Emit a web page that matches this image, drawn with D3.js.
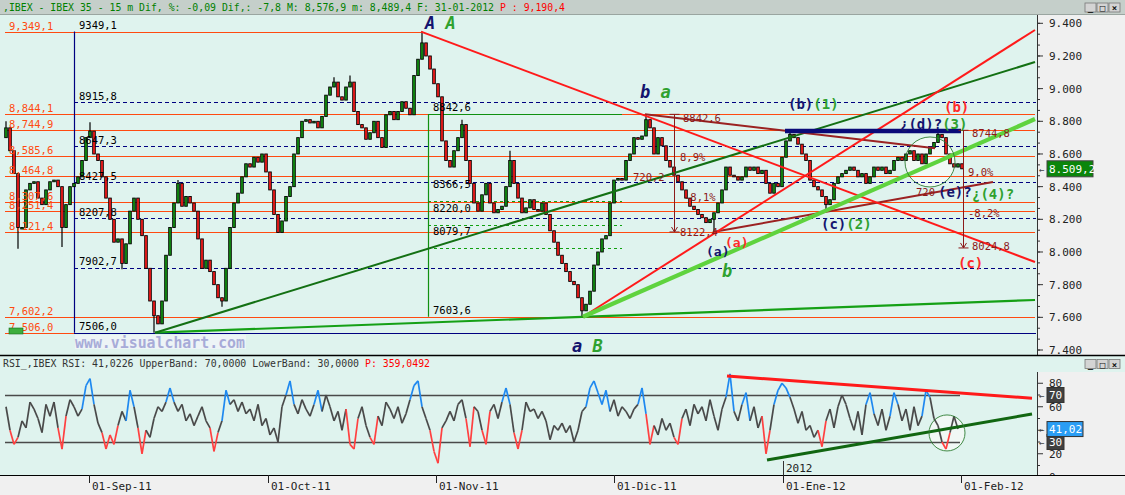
<!DOCTYPE html>
<html><head><meta charset="utf-8">
<script src="https://cdn.jsdelivr.net/npm/d3@7"></script>
<style>
html,body{margin:0;padding:0;background:#f0f0f0;overflow:hidden}
svg{display:block}
text{font-family:"DejaVu Sans Mono",monospace}
</style></head><body>
<svg id="c" width="1125" height="495"></svg>
<script>
// ---------- DATA ----------
const headerGreen = ",IBEX - IBEX 35 -  15 m Dif, %: -0,09 Dif,: -7,8 M: 8,576,9 m: 8,489,4 F: 31-01-2012";
const headerRed = "P : 9,190,4";
const rsiHeader = "RSI_,IBEX RSI: 41,0226 UpperBand: 70,0000 LowerBand: 30,0000";
const rsiHeaderRed = "P: 359,0492";

// closes of the bars (bar index 0..239)
const firstOpen = 8700;
const closes = [
 8760,8620,8480,8150,8150,8380,8420,8430,8330,8290,
 8380,8430,8440,8400,8150,8290,8400,8420,8460,8560,
 8700,8740,8600,8560,8460,8330,8200,8060,8080,7930,
 8050,8250,8330,8200,8100,7900,7700,7610,7560,7700,
 7980,8150,8300,8420,8280,8340,8300,8250,8080,7900,
 7950,7880,7800,7720,7700,7900,8150,8300,8360,8460,
 8540,8520,8580,8550,8600,8490,8380,8230,8120,8190,
 8340,8400,8600,8700,8800,8810,8790,8800,8760,8830,
 8960,9010,9040,8950,8930,9010,9040,8860,8780,8760,
 8690,8730,8800,8700,8640,8840,8860,8810,8860,8920,
 8880,8840,9080,9180,9280,9200,9120,9030,8950,8680,
 8560,8520,8620,8700,8780,8560,8420,8300,8250,8350,
 8420,8300,8240,8260,8280,8400,8560,8420,8330,8240,
 8270,8320,8260,8250,8300,8230,8130,8060,7980,7930,
 7880,7820,7800,7720,7640,7680,7760,7920,8000,8080,
 8100,8300,8440,8450,8440,8560,8600,8700,8690,8710,
 8810,8760,8600,8700,8650,8560,8520,8470,8430,8380,
 8330,8280,8260,8230,8210,8180,8200,8240,8300,8380,
 8520,8470,8460,8440,8460,8520,8500,8520,8480,8500,
 8420,8360,8420,8400,8580,8680,8720,8700,8660,8600,
 8560,8440,8400,8380,8340,8290,8320,8420,8460,8480,
 8500,8520,8500,8460,8480,8420,8460,8520,8500,8520,
 8480,8500,8560,8580,8560,8600,8620,8560,8600,8540,
 8600,8640,8670,8720,8700,8600,8540,8520,8540,8509.2
];
// extreme wicks (bar index, price)
const wickIdx   = [0,3,14,21,29,37,43,54,82,86,104,114,126,144,160,177,196,205,233];
const wickPrice = [8800,8020,8030,8795,7895,7506,8440,7665,9070,9080,9349.1,8810,8620,7603.6,8842.6,8122.4,8744,8255,8744.8];

// RSI values (bar index 0..238)
const rsi = [
 60,40,28,34,48,42,64,58,50,38,
 62,52,64,42,24,52,66,60,52,58,
 78,84,62,46,38,24,36,28,44,56,
 48,74,60,42,20,40,34,50,60,56,
 64,76,64,56,62,48,54,44,52,60,
 48,42,22,38,48,74,62,66,56,64,
 54,58,48,62,44,50,36,42,30,60,
 70,82,62,54,66,58,52,62,74,56,
 70,60,48,56,40,58,28,24,50,60,
 44,34,28,52,44,64,58,50,60,46,
 54,66,78,82,60,50,40,22,12,42,
 48,56,48,62,66,50,26,60,56,40,
 28,56,62,50,64,76,62,38,24,40,
 64,56,58,50,56,48,32,44,40,46,
 38,44,30,40,56,60,76,82,72,62,
 74,56,66,52,60,56,50,58,62,76,
 54,28,44,36,50,40,46,34,28,50,
 58,44,62,54,60,48,66,52,40,58,
 68,88,56,48,62,72,48,60,42,52,
 20,40,62,74,80,76,68,58,46,56,
 40,44,34,40,26,48,58,42,60,70,
 62,50,40,56,36,62,72,54,44,58,
 40,52,72,62,48,58,40,60,44,52,
 74,68,50,44,30,24,38,52,41.02
];

const priceTicks = [7400,7600,7800,8000,8200,8400,8600,8800,9000,9200,9400];
const lastPrice = 8509.2, lastPriceLabel = "8.509,2";
const rsiTicks = [0,20,60,80];
const rsiLast = 41.02, rsiLastLabel = "41,02";
const rsiBands = [70,30];

const dateLabels = ["01-Sep-11","01-Oct-11","01-Nov-11","01-Dic-11","01-Ene-12","01-Feb-12"];
const dateIdx    = [20.75, 65.5, 107.5, 152, 194.25, 238.75];
const yearLabel = "2012", yearIdx = 194.25;

// orange support/resistance levels
const orangeLevels = [9349.1,8844.1,8744.9,8585.6,8464.8,8307.6,8251.4,8121.4,7602.2,7506.0];
const orangeLabels = ["9,349,1","8,844,1","8,744,9","8,585,6","8,464,8","8,307,6","8,251,4","8,121,4","7,602,2","7,506,0"];
const orangeEndIdx = [103.75,257.25,257.25,257.25,257.25,257.25,257.25,257.25,257.25,17];

// fibonacci set 1 (navy)
const fibStartIdx = 17;
const fibLevels = [9349.1,8915.8,8647.3,8427.5,8207.8,7902.7,7506.0];
const fibLabels = ["9349,1","8915,8","8647,3","8427,5","8207,8","7902,7","7506,0"];
// fibonacci set 2 (green)
const fib2Idx = 105.5, fib2EndIdx = 154;
const fib2Levels = [8842.6,8366.5,8220.0,8079.7,7603.6];
const fib2Labels = ["8842,6","8366,5","8220,0","8079,7","7603,6"];

// trend lines [idx1, price1, idx2, price2]
const redLines   = [[103.75,9349.1,257.25,7939],[144.25,7603.6,257.25,9359]];
const darkGreenLine = [37.25,7506,257.25,9163];
const baseGreenLine = [37.25,7506,257.25,7706];
const thickGreenLine = [144.25,7603.6,257.25,8814];
const brownLines = [[159.75,8842.6,232.25,8635],[176.75,8122.4,246.75,8428]];
const navyBar = [194.75,8740,238.75,8740];
const measures = [[167,8842.6,8122.4],[239.25,8744.8,8024.8]];
const priceCircle = [231,8551];
const rsiCircle = [235.25,37.7];
const rsiRedLine = [180.25,86.2,256.5,67.3];
const rsiGreenLine = [190.25,14.7,256.5,53.8];

// wave labels: [idx, price, [[text,color],...], size, italic]
const NAVY="#14146e", WG="#2fa12f", WR="#ff2a2a", BR="#8b1a1a";
const waveLabels = [
 [104.75,9365,[["A",NAVY],[" ",NAVY],["A",WG]],17,true],
 [158.5,8943,[["b",NAVY],[" ",NAVY],["a",WG]],17,true],
 [141.5,7388,[["a",NAVY],[" ",NAVY],["B",WG]],17,true],
 [179,7847,[["b",WG]],17,true],
 [195.5,8875,[["(b)",NAVY],["(1)",WG]],14,false],
 [234.5,8857,[["(b)",WR]],14,false],
 [223.5,8753,[["¿(d)?",NAVY],["(3)",WG]],14,false],
 [233,8337,[["(e)?",NAVY]],14,false],
 [241.5,8324,[["¿(4)?",WG]],14,false],
 [238,7902,[["(c)",WR]],14,false],
 [203.75,8141,[["(c)",NAVY],["(2)",WG]],14,false],
 [175,7975,[["(a)",NAVY]],13,false],
 [179.75,8030,[["(a)",WR]],13,false]
];
const measureTexts = [
 [169.25,8796,"8842,6"],[168.5,8557,"8,9%"],[156.75,8435,"720,2"],[169.5,8312,"-8,1%"],[168.5,8098,"8122,4"],
 [241.5,8704,"8744,8"],[240.5,8465,"9,0%"],[227.5,8343,"720"],[240.5,8214,"-8,2%"],[241.5,8012,"8024,8"]
];

// ---------- CHART ----------
const svg = d3.select("#c");
const AX = 1037, mainTop = 14, mainBot = 355, rsiTop = 372, rsiBot = 475;
const MINT = "#dff3ee", GREY = "#f0f0f0";
const x = d3.scaleLinear().domain([0,239]).range([6,962]);
const y = d3.scaleLinear().domain([7400,9400]).range([350,23.3]);
const yr = d3.scaleLinear().domain([0,100]).range([477.25,359.75]);

// backgrounds
svg.append("rect").attr("x",0).attr("y",0).attr("width",1125).attr("height",495).attr("fill",GREY);
svg.append("rect").attr("x",0).attr("y",0).attr("width",1125).attr("height",mainTop).attr("fill","#c5cfca");
svg.append("rect").attr("x",0).attr("y",mainTop).attr("width",AX).attr("height",mainBot-mainTop).attr("fill",MINT);
svg.append("rect").attr("x",0).attr("y",mainBot).attr("width",1125).attr("height",rsiTop-mainBot).attr("fill",MINT);
svg.append("rect").attr("x",0).attr("y",rsiTop).attr("width",AX).attr("height",rsiBot-rsiTop).attr("fill",MINT);

const defs = svg.append("defs");
defs.append("clipPath").attr("id","cm").append("rect").attr("x",0).attr("y",mainTop).attr("width",AX-1).attr("height",mainBot-mainTop);
defs.append("clipPath").attr("id","cr").append("rect").attr("x",0).attr("y",mainBot+1).attr("width",AX-1).attr("height",rsiBot-mainBot-1);

const gm = svg.append("g").attr("clip-path","url(#cm)");
const gr = svg.append("g").attr("clip-path","url(#cr)");

// header
svg.append("text").attr("x",3).attr("y",10.5).attr("font-size",10).attr("textLength",491).attr("lengthAdjust","spacingAndGlyphs").attr("fill","#008000").text(headerGreen);
svg.append("text").attr("x",500).attr("y",10.5).attr("font-size",10).attr("textLength",65).attr("lengthAdjust","spacingAndGlyphs").attr("fill","#ff0000").text(headerRed);

// window buttons
function buttons(y0){
  const bx=[1085,1097,1109], sym=["_","□","×"];
  bx.forEach((b,k)=>{
    svg.append("rect").attr("x",b).attr("y",y0).attr("width",11).attr("height",9).attr("fill","#d4d4d4").attr("stroke","#777").attr("stroke-width",0.8);
    svg.append("text").attr("x",b+5.5).attr("y",y0+8).attr("text-anchor","middle").attr("font-size",9).attr("font-weight","bold").attr("fill","#111").text(sym[k]);
  });
}
buttons(3); buttons(359.5);

// circle fill (under candles)
gm.append("circle").attr("cx",x(priceCircle[0])).attr("cy",y(priceCircle[1])).attr("r",25).attr("fill","#f1f8f5");

// orange lines
orangeLevels.forEach((v,k)=>{
  const yy = Math.round(y(v))+0.5;
  gm.append("line").attr("x1",5).attr("x2",x(orangeEndIdx[k])).attr("y1",yy).attr("y2",yy).attr("stroke","#ff4a10").attr("stroke-width",1.2);
});
// fib navy dashed
fibLevels.forEach((v,k)=>{
  if(k===0) return;
  const yy = Math.round(y(v))+0.5;
  const last = k===fibLevels.length-1;
  gm.append("line").attr("x1",x(fibStartIdx)).attr("x2",AX).attr("y1",yy).attr("y2",yy)
    .attr("stroke","#000080").attr("stroke-width",1.2).attr("stroke-dasharray",last?null:"4,3");
});
gm.append("line").attr("x1",x(fibStartIdx)+0.5).attr("x2",x(fibStartIdx)+0.5).attr("y1",y(fibLevels[0])).attr("y2",y(7506)).attr("stroke","#000080").attr("stroke-width",1.2);
// fib 2 green
fib2Levels.forEach((v,k)=>{
  const yy = Math.round(y(v))+0.5;
  if(k===0) gm.append("line").attr("x1",x(fib2Idx)).attr("x2",x(fib2EndIdx)).attr("y1",yy).attr("y2",yy).attr("stroke","#109010").attr("stroke-width",1.2);
  else if(k<fib2Levels.length-1) gm.append("line").attr("x1",x(fib2Idx)).attr("x2",x(fib2EndIdx)).attr("y1",yy+9).attr("y2",yy+9).attr("stroke","#10a010").attr("stroke-width",1).attr("stroke-dasharray","3,3");
});
gm.append("line").attr("x1",x(fib2Idx)+0.5).attr("x2",x(fib2Idx)+0.5).attr("y1",y(fib2Levels[0])).attr("y2",y(7603.6)).attr("stroke","#109010").attr("stroke-width",1.2);

// candles
const candles = closes.map((c,i)=>({i, o: i?closes[i-1]:firstOpen, c}));
const wmap = new Map(wickIdx.map((k,j)=>[k,wickPrice[j]]));
candles.forEach(d=>{
  const hi=Math.max(d.o,d.c), lo=Math.min(d.o,d.c);
  if(wmap.has(d.i)){
    const w=wmap.get(d.i);
    gm.append("line").attr("x1",x(d.i)).attr("x2",x(d.i)).attr("y1",y(w)).attr("y2",y(w>hi?hi:lo)).attr("stroke","#000").attr("stroke-width",1.2);
  }
});
gm.selectAll("rect.cd").data(candles).join("rect").attr("class","cd")
  .attr("x",d=>x(d.i)-1.3).attr("width",2.6)
  .attr("y",d=>y(Math.max(d.o,d.c)))
  .attr("height",d=>Math.max(1.5,Math.abs(y(d.o)-y(d.c))))
  .attr("fill",d=>d.c>=d.o?"#129412":"#ff1c1c").attr("stroke","#000").attr("stroke-width",0.9);

// trend lines
function seg(g,a,col,w,ys){ys=ys||y;return g.append("line").attr("x1",x(a[0])).attr("y1",ys(a[1])).attr("x2",x(a[2])).attr("y2",ys(a[3])).attr("stroke",col).attr("stroke-width",w);}
seg(gm,baseGreenLine,"#15a015",2.2);
seg(gm,darkGreenLine,"#137013",2);
brownLines.forEach(l=>seg(gm,l,"#9b2222",2));
redLines.forEach(l=>seg(gm,l,"#ff1a1a",2));
seg(gm,thickGreenLine,"#5fd33e",4.2);
seg(gm,navyBar,"#0a0a78",4.5);

// measurement arrows
measures.forEach(m=>{
  const xx=Math.round(x(m[0]))+0.5, y1=y(m[1]), y2=y(m[2]);
  gm.append("line").attr("x1",xx).attr("x2",xx).attr("y1",y1).attr("y2",y2).attr("stroke",BR).attr("stroke-width",1);
  gm.append("line").attr("x1",xx-5).attr("x2",xx+5).attr("y1",y1).attr("y2",y1).attr("stroke",BR).attr("stroke-width",1);
  gm.append("line").attr("x1",xx-5).attr("x2",xx+5).attr("y1",y2).attr("y2",y2).attr("stroke",BR).attr("stroke-width",1);
  gm.append("path").attr("d",`M${xx-3},${y2-5}L${xx},${y2}L${xx+3},${y2-5}`).attr("fill","none").attr("stroke",BR).attr("stroke-width",1);
});
gm.append("circle").attr("cx",x(priceCircle[0])).attr("cy",y(priceCircle[1])).attr("r",25).attr("fill","none").attr("stroke","#2e7d32").attr("stroke-width",0.9);

// level labels
orangeLevels.forEach((v,k)=>{
  gm.append("text").attr("x",9).attr("y",y(v)-2).attr("font-size",10.5).attr("fill","#ff4a10").text(orangeLabels[k]);
});
fibLevels.forEach((v,k)=>{
  gm.append("text").attr("x",x(fibStartIdx)+5).attr("y",y(v)-2.5).attr("font-size",10.5).attr("fill","#000").text(fibLabels[k]);
});
fib2Levels.forEach((v,k)=>{
  gm.append("text").attr("x",x(fib2Idx)+5).attr("y",y(v)+(k===0?-3:(k===fib2Levels.length-1?-3:-4))).attr("font-size",10.5).attr("fill","#000").text(fib2Labels[k]);
});
measureTexts.forEach(t=>{
  gm.append("text").attr("x",x(t[0])).attr("y",y(t[1])).attr("font-size",10.5).attr("fill",BR).text(t[2]);
});
waveLabels.forEach(w=>{
  const t=gm.append("text").attr("x",x(w[0])).attr("y",y(w[1])).attr("font-size",w[3]).attr("font-weight","bold")
    .attr("font-style",w[4]?"italic":"normal").attr("font-family",w[4]?"'Liberation Sans',Arial,sans-serif":"'DejaVu Sans',sans-serif");
  w[2].forEach(p=>t.append("tspan").attr("fill",p[1]).text(p[0]));
});

// small green marker bottom-left
gm.append("rect").attr("x",9).attr("y",328).attr("width",14).attr("height",6).attr("fill","#3dae3d").attr("stroke","#1a6a1a").attr("stroke-width",0.6);

// watermark
svg.append("rect").attr("x",75).attr("y",335).attr("width",171).attr("height",14).attr("fill","#edf4f6");
svg.append("text").attr("x",75).attr("y",347.5).attr("font-family","'DejaVu Sans',sans-serif").attr("font-weight","bold").attr("font-size",15)
  .attr("fill","#a7abd8").attr("textLength",170).attr("lengthAdjust","spacingAndGlyphs").text("www.visualchart.com");

// price axis
svg.append("rect").attr("x",AX).attr("y",mainTop).attr("width",1125-AX).attr("height",mainBot-mainTop).attr("fill",GREY);
svg.append("line").attr("x1",AX+0.5).attr("x2",AX+0.5).attr("y1",mainTop).attr("y2",mainBot).attr("stroke","#333");
svg.append("line").attr("x1",0).attr("x2",1125).attr("y1",mainTop+0.5).attr("y2",mainTop+0.5).attr("stroke","#9aa5a0");
const minor = d3.range(7400,9400.1,200/3);
minor.forEach(v=>svg.append("line").attr("x1",AX).attr("x2",AX+3).attr("y1",y(v)).attr("y2",y(v)).attr("stroke","#333"));
priceTicks.forEach(v=>{
  svg.append("line").attr("x1",AX).attr("x2",AX+6).attr("y1",y(v)).attr("y2",y(v)).attr("stroke","#333");
  svg.append("text").attr("x",AX+12).attr("y",y(v)+4).attr("font-size",11).attr("fill","#222").text(d3.format(",")(v).replace(",","."));
});
svg.append("text").attr("x",AX+2).attr("y",y(lastPrice)+4).attr("font-size",9).attr("fill","#444").text("←");
svg.append("rect").attr("x",AX+10).attr("y",y(lastPrice)-8).attr("width",46).attr("height",16).attr("fill","#0b860b").attr("stroke","#444");
svg.append("text").attr("x",AX+12).attr("y",y(lastPrice)+4).attr("font-size",11).attr("fill","#fff").text(lastPriceLabel);

// separators
svg.append("line").attr("x1",0).attr("x2",1125).attr("y1",mainBot+0.5).attr("y2",mainBot+0.5).attr("stroke","#000").attr("stroke-width",1.6);

// RSI header
svg.append("text").attr("x",3).attr("y",367).attr("font-size",10).attr("textLength",356).attr("lengthAdjust","spacingAndGlyphs").attr("fill","#333").text(rsiHeader);
svg.append("text").attr("x",365).attr("y",367).attr("font-size",10).attr("textLength",65).attr("lengthAdjust","spacingAndGlyphs").attr("fill","#ff0000").text(rsiHeaderRed);

// RSI panel
gr.append("circle").attr("cx",x(rsiCircle[0])).attr("cy",yr(rsiCircle[1])).attr("r",18).attr("fill","#f1f8f5");
rsiBands.forEach(b=>{
  gr.append("line").attr("x1",5).attr("x2",960).attr("y1",Math.round(yr(b))+0.5).attr("y2",Math.round(yr(b))+0.5).attr("stroke","#4a4a4a").attr("stroke-width",1.5);
});
const rsiSegs = d3.range(rsi.length-1).map(i=>({i,a:rsi[i],b:rsi[i+1]}));
gr.selectAll("line.rs").data(rsiSegs).join("line").attr("class","rs")
  .attr("x1",d=>x(d.i)).attr("x2",d=>x(d.i+1)).attr("y1",d=>yr(d.a)).attr("y2",d=>yr(d.b))
  .attr("stroke",d=>(d.a>70||d.b>70)?"#1e88f0":((d.a<30||d.b<30)?"#ff4040":"#4a4a4a")).attr("stroke-width",1.7);
seg(gr,rsiRedLine,"#ff1a1a",3,yr);
seg(gr,rsiGreenLine,"#116611",3,yr);
gr.append("circle").attr("cx",x(rsiCircle[0])).attr("cy",yr(rsiCircle[1])).attr("r",18).attr("fill","none").attr("stroke","#2e7d32").attr("stroke-width",0.9);
gr.append("line").attr("x1",x(yearIdx)+0.5).attr("x2",x(yearIdx)+0.5).attr("y1",461).attr("y2",rsiBot).attr("stroke","#333");
gr.append("text").attr("x",x(yearIdx)+3).attr("y",472).attr("font-size",11).attr("fill","#222").text(yearLabel);

// RSI axis
svg.append("rect").attr("x",AX).attr("y",rsiTop).attr("width",1125-AX).attr("height",rsiBot-rsiTop).attr("fill",GREY);
svg.append("line").attr("x1",AX+0.5).attr("x2",AX+0.5).attr("y1",rsiTop).attr("y2",rsiBot).attr("stroke","#333");
d3.range(0,101,10).forEach(v=>{ if(yr(v)>rsiTop) svg.append("line").attr("x1",AX).attr("x2",AX+(v%20===0?6:3)).attr("y1",yr(v)).attr("y2",yr(v)).attr("stroke","#333");});
rsiTicks.forEach(v=>svg.append("text").attr("x",AX+12).attr("y",yr(v)+4).attr("font-size",11).attr("fill","#222").text(v));
function rbox(v,label,col,w){
  svg.append("text").attr("x",AX+2).attr("y",yr(v)+4).attr("font-size",9).attr("fill","#444").text("←");
  svg.append("rect").attr("x",AX+10).attr("y",yr(v)-7.5).attr("width",w).attr("height",15).attr("fill",col).attr("stroke","#333");
  svg.append("text").attr("x",AX+12).attr("y",yr(v)+4).attr("font-size",11).attr("fill","#fff").text(label);
}
rbox(70,"70","#404040",17); rbox(30,"30","#404040",17); rbox(rsiLast,rsiLastLabel,"#2a9df4",36);

// date axis
svg.append("rect").attr("x",0).attr("y",rsiBot).attr("width",1125).attr("height",495-rsiBot).attr("fill",GREY);
svg.append("line").attr("x1",0).attr("x2",1125).attr("y1",rsiBot+0.5).attr("y2",rsiBot+0.5).attr("stroke","#000").attr("stroke-width",1.2);
dateIdx.forEach((d,k)=>{
  const xx=Math.round(x(d))+0.5;
  svg.append("line").attr("x1",xx).attr("x2",xx).attr("y1",rsiBot).attr("y2",rsiBot+8).attr("stroke","#222");
  svg.append("text").attr("x",xx+2.5).attr("y",489.5).attr("font-size",11).attr("fill","#222").text(dateLabels[k]);
});
</script>
</body></html>
